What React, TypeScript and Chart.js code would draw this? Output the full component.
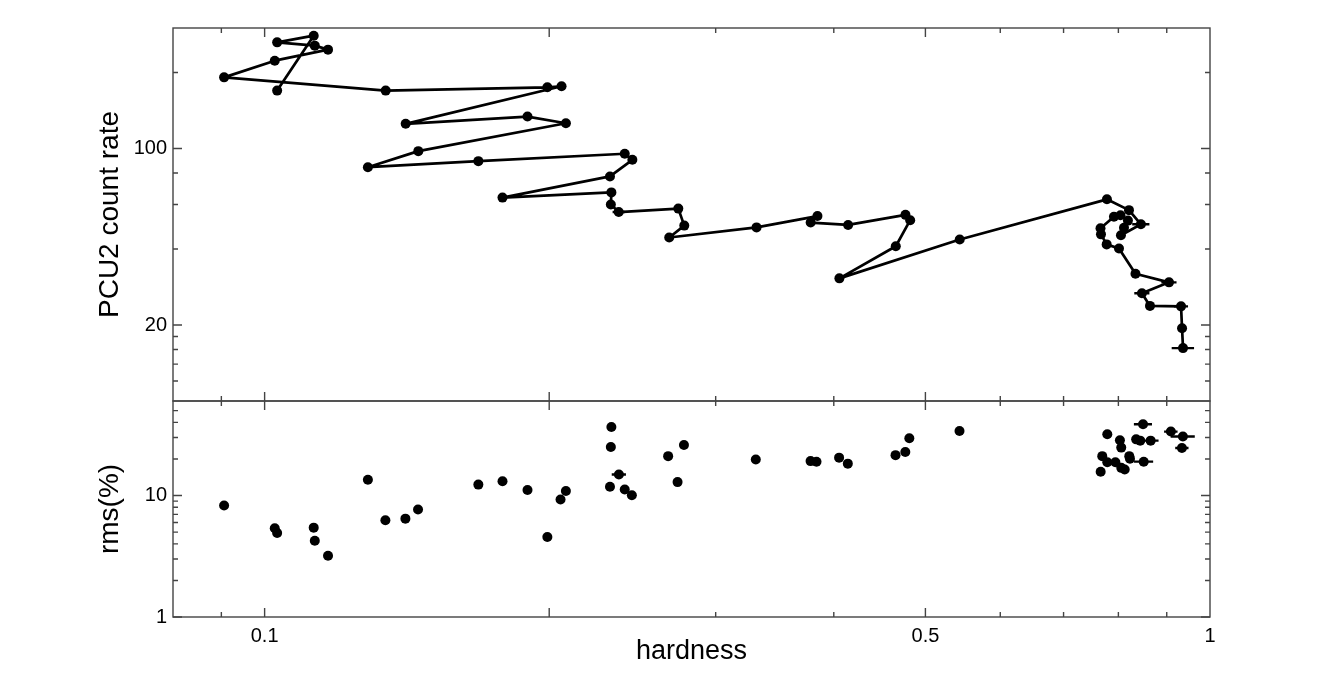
import React, { useEffect, useRef } from "react";
import { Chart, registerables } from "chart.js";

Chart.register(...registerables);

// ---- Data ----
// Top panel: PCU2 count rate vs hardness, in connection order
const countHardness = [
  0.1031, 0.1127, 0.1031, 0.113, 0.1167, 0.1025, 0.0906, 0.1343, 0.1991, 0.2061,
  0.141, 0.1897, 0.2083, 0.1454, 0.1286, 0.1683, 0.2404, 0.2449, 0.2319, 0.1785,
  0.2327, 0.2324, 0.2369, 0.2739, 0.2779, 0.2679, 0.3314, 0.3844, 0.3781, 0.4142,
  0.4763, 0.4818, 0.4652, 0.4055, 0.5436, 0.778, 0.8209, 0.8451, 0.805, 0.811,
  0.8188, 0.8041, 0.7914, 0.7659, 0.7668, 0.7775, 0.8012, 0.834, 0.905, 0.8472,
  0.864, 0.9319, 0.9342, 0.9364,
];
const countRate = [
  169.5, 279.7, 263.2, 255.4, 246.3, 222.7, 191.3, 169.5, 174.7, 176.3,
  125.2, 133.8, 125.9, 97.6, 84.3, 89.1, 95.3, 90.2, 77.5, 63.9,
  67.0, 60.0, 56.0, 57.8, 49.5, 44.4, 48.7, 54.0, 50.9, 49.8,
  54.6, 52.0, 41.0, 30.6, 43.6, 62.9, 57.0, 50.1, 45.3, 48.5,
  51.8, 54.4, 53.7, 48.3, 45.7, 41.7, 40.2, 31.9, 29.5, 26.7,
  23.8, 23.7, 19.4, 16.2,
];
const countHardnessErr = [
  0, 0, 0, 0, 0, 0, 0, 0, 0, 0,
  0, 0, 0, 0, 0, 0, 0, 0, 0, 0,
  0, 0, 0.0035, 0, 0, 0, 0, 0, 0, 0,
  0, 0, 0, 0, 0, 0, 0, 0.0177, 0, 0,
  0, 0, 0, 0, 0, 0, 0, 0, 0.0167, 0.0156,
  0, 0.016, 0, 0.0255,
];

// Bottom panel: rms (%) vs hardness
const rmsHardness = [
  0.0906, 0.1025, 0.1031, 0.1127, 0.113, 0.1167, 0.1286, 0.1342, 0.1409, 0.1453,
  0.1683, 0.1785, 0.1897, 0.1991, 0.2056, 0.2083, 0.2327, 0.2324, 0.237, 0.2319,
  0.2404, 0.2446, 0.2672, 0.2734, 0.2777, 0.3308, 0.378, 0.3835, 0.4052, 0.4139,
  0.4649, 0.4761, 0.4808, 0.5433, 0.7787, 0.7692, 0.7662, 0.7787, 0.7942, 0.803,
  0.8056, 0.8056, 0.8124, 0.8215, 0.8229, 0.8354, 0.8437, 0.8495, 0.8509, 0.8654,
  0.9091, 0.9361, 0.9339,
];
const rmsPercent = [
  8.27, 5.37, 4.92, 5.44, 4.25, 3.19, 13.5, 6.25, 6.45, 7.66,
  12.3, 13.1, 11.1, 4.56, 9.27, 10.9, 36.6, 25.1, 14.9, 11.8,
  11.2, 10.06, 21.1, 12.9, 26.1, 19.8, 19.2, 19.0, 20.5, 18.3,
  21.5, 22.8, 29.6, 34.0, 31.9, 21.1, 15.7, 18.8, 18.8, 28.5,
  24.8, 16.9, 16.4, 21.1, 20.1, 29.0, 28.3, 38.6, 19.0, 28.3,
  33.6, 30.6, 24.6,
];
const rmsHardnessErr = [
  0, 0, 0, 0, 0, 0, 0, 0, 0, 0,
  0, 0, 0, 0, 0, 0, 0, 0, 0.0041, 0,
  0, 0, 0, 0, 0, 0, 0, 0, 0, 0,
  0, 0, 0, 0, 0, 0, 0, 0, 0, 0,
  0, 0, 0, 0, 0, 0, 0, 0.0187, 0.0198, 0.0168,
  0.0149, 0.0275, 0.0151,
];

// Tick definitions
const xLabelTicks = [0.1, 0.5, 1];
const xMajorMarks = [0.1, 0.2, 0.5];
const xMinorMarks = [0.09, 0.3, 0.4, 0.6, 0.7, 0.8, 0.9];
const countLabelTicks = [20, 100];
const countMinorMarks = [12, 14, 16, 18, 40, 60, 80, 200];
const rmsLabelTicks = [1, 10];
const rmsMinorMarks = [2, 3, 4, 5, 6, 7, 8, 9, 20, 30, 40, 50];

const FONT = "'Liberation Sans', Arial, Helvetica, sans-serif";

const frameTicks = {
  id: "frameTicks",
  afterDraw(chart: any) {
    const ctx = chart.ctx;
    const x = chart.scales.x;
    const panels: any[] = [
      [chart.scales.yTop, countLabelTicks, countMinorMarks],
      [chart.scales.yBot, rmsLabelTicks, rmsMinorMarks],
    ];
    const L = x.left;
    const R = x.right;
    ctx.save();
    ctx.strokeStyle = "#444";
    ctx.lineWidth = 1.4;
    for (const [ys, maj, min] of panels) {
      const T = ys.top;
      const B = ys.bottom;
      ctx.strokeRect(L, T, R - L, B - T);
      ctx.beginPath();
      const xt = (v: number, len: number) => {
        const p = x.getPixelForValue(v);
        ctx.moveTo(p, B);
        ctx.lineTo(p, B - len);
        ctx.moveTo(p, T);
        ctx.lineTo(p, T + len);
      };
      xMajorMarks.forEach((v) => xt(v, 9));
      xMinorMarks.forEach((v) => xt(v, 5));
      const yt = (v: number, len: number) => {
        const p = ys.getPixelForValue(v);
        ctx.moveTo(L, p);
        ctx.lineTo(L + len, p);
        ctx.moveTo(R, p);
        ctx.lineTo(R - len, p);
      };
      maj.forEach((v: number) => yt(v, 9));
      min.forEach((v: number) => yt(v, 5));
      ctx.stroke();
    }
    ctx.restore();
  },
};

const errorBars = {
  id: "errorBars",
  afterDatasetsDraw(chart: any) {
    const ctx = chart.ctx;
    const x = chart.scales.x;
    const sets: any[] = [
      [chart.scales.yTop, countHardness, countRate, countHardnessErr],
      [chart.scales.yBot, rmsHardness, rmsPercent, rmsHardnessErr],
    ];
    ctx.save();
    ctx.strokeStyle = "#000";
    ctx.lineWidth = 2.4;
    ctx.beginPath();
    for (const [ys, hx, vy, err] of sets) {
      for (let i = 0; i < hx.length; i++) {
        if (!err[i]) continue;
        const py = ys.getPixelForValue(vy[i]);
        ctx.moveTo(x.getPixelForValue(hx[i] - err[i]), py);
        ctx.lineTo(x.getPixelForValue(hx[i] + err[i]), py);
      }
    }
    ctx.stroke();
    ctx.restore();
  },
};

const tickFont = { family: FONT, size: 20 };
const titleFont = { family: FONT, size: 28 };

export default function App() {
  const canvasRef = useRef<HTMLCanvasElement | null>(null);

  useEffect(() => {
    const canvas = canvasRef.current;
    if (!canvas) return;
    const chart = new Chart(canvas, {
      type: "scatter",
      data: {
        datasets: [
          {
            label: "count rate",
            data: countHardness.map((h, i) => ({ x: h, y: countRate[i] })),
            yAxisID: "yTop",
            showLine: true,
            borderColor: "#000",
            borderWidth: 2.7,
            borderJoinStyle: "round",
            backgroundColor: "#000",
            pointBackgroundColor: "#000",
            pointBorderWidth: 0,
            pointRadius: 5,
            tension: 0,
          },
          {
            label: "rms",
            data: rmsHardness.map((h, i) => ({ x: h, y: rmsPercent[i] })),
            yAxisID: "yBot",
            showLine: false,
            borderColor: "#000",
            backgroundColor: "#000",
            pointBackgroundColor: "#000",
            pointBorderWidth: 0,
            pointRadius: 5,
          },
        ],
      },
      options: {
        animation: false,
        responsive: false,
        devicePixelRatio: 1,
        events: [],
        layout: { padding: { left: 80, right: 124, top: 28, bottom: 0 } },
        plugins: {
          legend: { display: false },
          tooltip: { enabled: false },
        },
        scales: {
          yBot: {
            type: "logarithmic",
            position: "left",
            stack: "panels",
            stackWeight: 216,
            min: 1,
            max: 60,
            afterBuildTicks: (s: any) => {
              s.ticks = rmsLabelTicks.map((v) => ({ value: v }));
            },
            afterFit: (s: any) => {
              s.width = 93;
            },
            ticks: {
              callback: (v: any) => String(v),
              font: tickFont,
              color: "#000",
              padding: 6,
              autoSkip: false,
            },
            grid: { display: false, drawTicks: false },
            border: { display: false },
            title: {
              display: true,
              text: "rms(%)",
              font: titleFont,
              color: "#000",
              padding: { top: 13, bottom: 0 },
            },
          },
          yTop: {
            type: "logarithmic",
            position: "left",
            stack: "panels",
            stackWeight: 373,
            min: 10,
            max: 300,
            afterBuildTicks: (s: any) => {
              s.ticks = countLabelTicks.map((v) => ({ value: v }));
            },
            afterFit: (s: any) => {
              s.width = 93;
            },
            ticks: {
              callback: (v: any) => String(v),
              font: tickFont,
              color: "#000",
              padding: 6,
              autoSkip: false,
            },
            grid: { display: false, drawTicks: false },
            border: { display: false },
            title: {
              display: true,
              text: "PCU2 count rate",
              font: titleFont,
              color: "#000",
              padding: { top: 13, bottom: 0 },
            },
          },
          x: {
            type: "logarithmic",
            position: "bottom",
            min: 0.08,
            max: 1,
            afterBuildTicks: (s: any) => {
              s.ticks = xLabelTicks.map((v) => ({ value: v }));
            },
            afterFit: (s: any) => {
              s.height = 69;
            },
            ticks: {
              callback: (v: any) => String(v),
              font: tickFont,
              color: "#000",
              padding: 7,
              autoSkip: false,
              maxRotation: 0,
            },
            grid: { display: false, drawTicks: false },
            border: { display: false },
            title: {
              display: true,
              text: "hardness",
              font: { family: FONT, size: 27 },
              color: "#000",
              padding: { top: 0, bottom: 18 },
            },
          },
        },
      } as any,
      plugins: [errorBars, frameTicks],
    });
    return () => chart.destroy();
  }, []);

  return (
    <div style={{ position: "absolute", left: 0, top: 0, width: 1334, height: 686, background: "#fff" }}>
      <canvas ref={canvasRef} width={1334} height={686} style={{ width: 1334, height: 686, display: "block" }} />
    </div>
  );
}
